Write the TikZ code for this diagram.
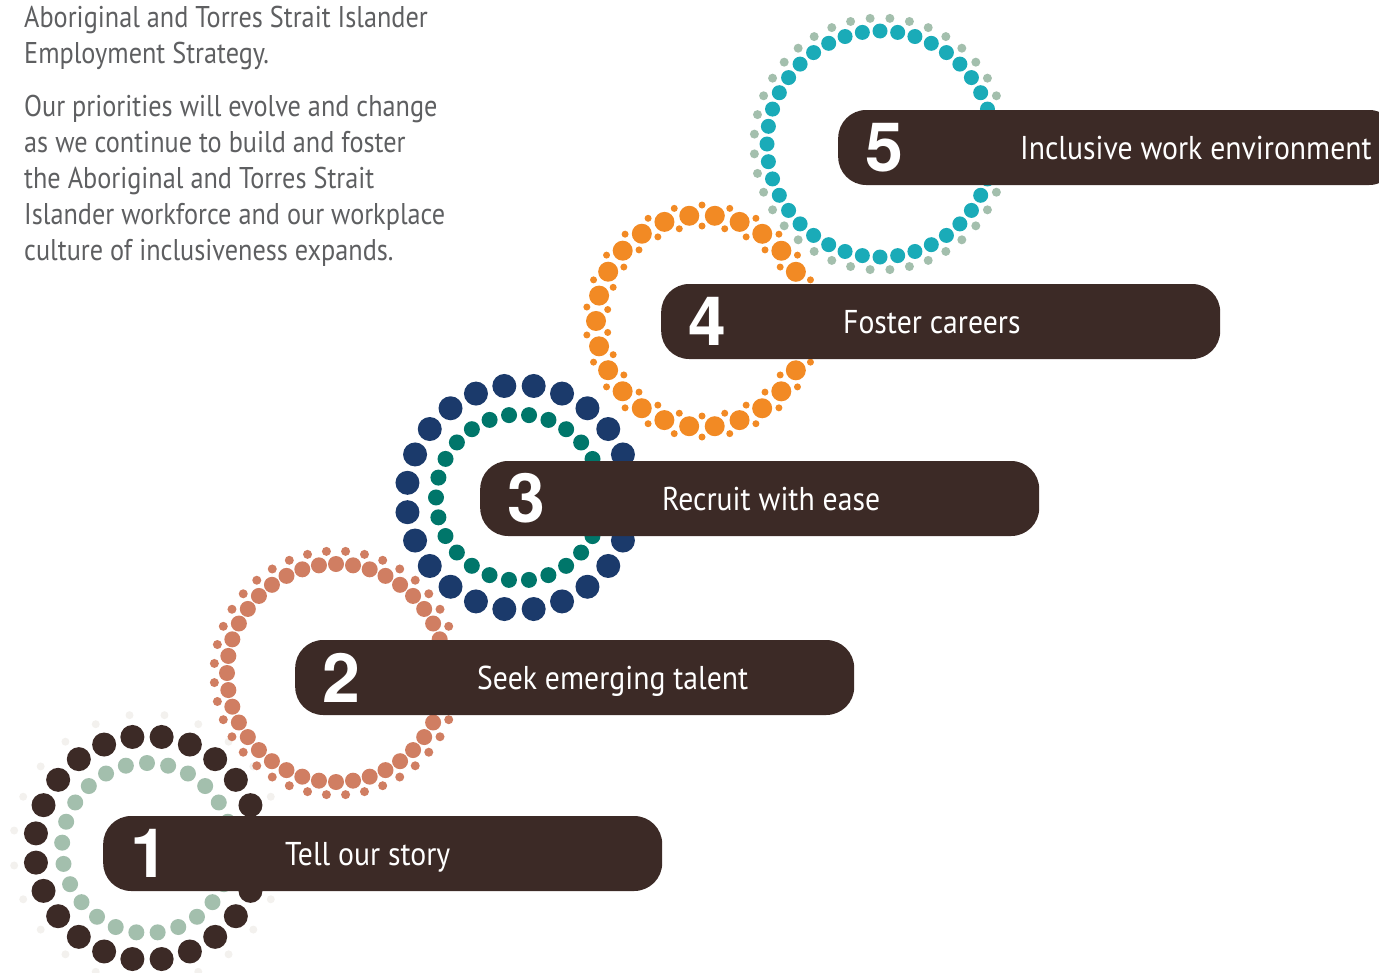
\documentclass[tikz,border=0pt]{standalone}
\usepackage{fontspec}
\setmainfont{PT Sans}
\newfontfamily\numfont{TeX Gyre Heros}
\newfontfamily\introfont[FakeStretch=0.875]{PT Sans}
\newfontfamily\stepfont[FakeStretch=0.9]{PT Sans}
\usetikzlibrary{calc}

\definecolor{barbrown}{HTML}{3C2A26}
\definecolor{sage}{HTML}{A3BFAD}
\definecolor{faint}{HTML}{F3F1EE}
\definecolor{terra}{HTML}{D07E62}
\definecolor{navy}{HTML}{1B3A6B}
\definecolor{pine}{HTML}{00766A}
\definecolor{tangerine}{HTML}{F28A24}
\definecolor{lagoon}{HTML}{1AABB8}
\definecolor{introgray}{HTML}{5E5F61}

\begin{document}
\begin{tikzpicture}[x=1pt, y=-1pt,
  barbox/.style={fill=barbrown, rounded corners=28pt, minimum width=559pt,
    minimum height=75pt, inner sep=0pt, anchor=west},
  numtext/.style={text=white, inner sep=0pt,
    font=\numfont\bfseries\fontsize{68}{68}\selectfont},
  steptext/.style={text=white, anchor=base west, inner sep=0pt,
    font=\stepfont\fontsize{33}{33}\selectfont},
  intro/.style={text=introgray, anchor=base west, inner sep=0pt,
    font=\introfont\fontsize{30}{36}\selectfont}]
  \useasboundingbox (0,0) rectangle (1379,972);
  \clip (0,0) rectangle (1379,972);

  % intro text
  \foreach \row [count=\i] in {Aboriginal and Torres Strait Islander, Employment Strategy.}
    \node[intro] (introa\i) at (24, 27+36*\i-36) {\row};
  \foreach \row [count=\i] in {Our priorities will evolve and change,
      as we continue to build and foster, the Aboriginal and Torres Strait,
      Islander workforce and our workplace, culture of inclusiveness expands.}
    \node[intro] (introb\i) at (24, 116+36*\i-36) {\row};

  % ring 1
  \coordinate (ring1) at (147, 848);
  \foreach \a in {7.5,22.5,...,352.5} {
    \fill[faint] ($(ring1)+(\a:134pt)$) circle (4pt);
    \fill[barbrown] ($(ring1)+(\a:112pt)$) circle (12pt);
  }
  \foreach \k in {0,...,24}
    \fill[sage] ($(ring1)+({90+\k*14.4}:85pt)$) circle (8pt);

  % ring 2
  \coordinate (ring2) at (336, 673);
  \foreach \k in {0,...,39} {
    \fill[terra] ($(ring2)+({\k*9}:109pt)$) circle (8pt);
    \fill[terra] ($(ring2)+({\k*9+4.5}:122pt)$) circle (4.5pt);
  }

  % ring 3
  \coordinate (ring3) at (519, 497.5);
  \foreach \a in {7.5,22.5,...,352.5}
    \fill[navy] ($(ring3)+(\a:112.5pt)$) circle (12pt);
  \foreach \k in {0,...,25}
    \fill[pine] ($(ring3)+({96.9+\k*13.846}:83pt)$) circle (8pt);

  % ring 4
  \coordinate (ring4) at (702, 321);
  \foreach \k in {0,...,25} {
    \fill[tangerine] ($(ring4)+({96.9+\k*13.846}:106pt)$) circle (10pt);
    \fill[tangerine] ($(ring4)+({90+\k*13.846}:116pt)$) circle (3.5pt);
    \fill[tangerine] ($(ring4)+({90+\k*13.846}:95pt)$) circle (3.5pt);
  }

  % ring 5
  \coordinate (ring5) at (880, 144);
  \foreach \k in {0,...,39} {
    \fill[lagoon] ($(ring5)+({\k*9}:113pt)$) circle (7.5pt);
    \fill[sage] ($(ring5)+({\k*9+4.5}:126pt)$) circle (4.5pt);
  }

  % steps
  \foreach \n/\bx/\cy/\txt in {1/103/853.5/Tell our story,
      2/295/677.5/Seek emerging talent, 3/480/498.5/Recruit with ease,
      4/661/321.5/Foster careers, 5/838/147.5/Inclusive work environment} {
    \node[barbox] (bar\n) at (\bx, \cy) {};
    \node[numtext] (num\n) at ($(bar\n.west)+(46pt,0)$) {\n};
    \node[steptext] (step\n) at ($(bar\n.west)+(182pt,-12pt)$) {\txt};
  }
\end{tikzpicture}
\end{document}
